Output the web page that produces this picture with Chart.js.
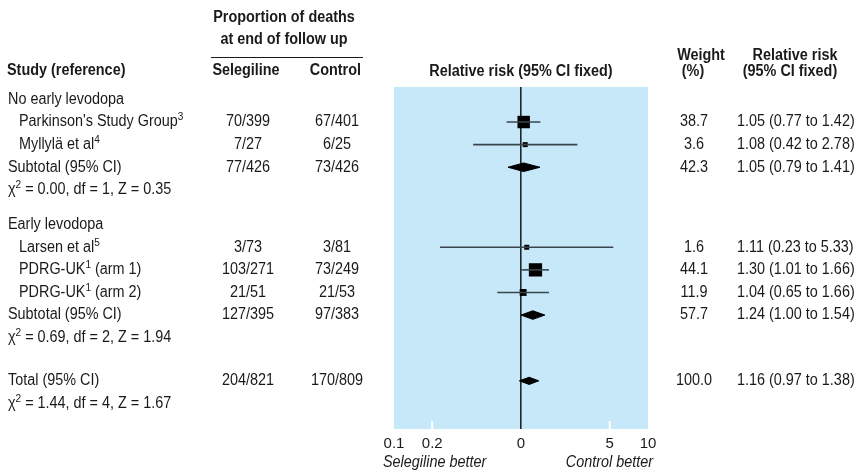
<!DOCTYPE html>
<html>
<head>
<meta charset="utf-8">
<script src="https://cdn.jsdelivr.net/npm/chart.js@4.4.0/dist/chart.umd.min.js"></script>
<style>
  html, body { margin: 0; padding: 0; background: #fff; }
  canvas { display: block; }
</style>
</head>
<body>
<canvas id="forest" width="858" height="474"></canvas>
<script>
// Data ------------------------------------------------------------------------
const groups = ["No early levodopa", "Early levodopa"];
const studies = ["Parkinson's Study Group", "Myllylä et al", "Larsen et al", "PDRG-UK", "PDRG-UK"];
const studyRefs = ["3", "4", "5", "1", "1"];
const studySuffix = ["", "", "", " (arm 1)", " (arm 2)"];
const studyGroup = [0, 0, 1, 1, 1];
const selDeaths = [70, 7, 3, 103, 21];
const selTotal = [399, 27, 73, 271, 51];
const ctlDeaths = [67, 6, 3, 73, 21];
const ctlTotal = [401, 25, 81, 249, 53];
const weights = [38.7, 3.6, 1.6, 44.1, 11.9];
const rr = [1.05, 1.08, 1.11, 1.30, 1.04];
const rrLow = [0.77, 0.42, 0.23, 1.01, 0.65];
const rrHigh = [1.42, 2.78, 5.33, 1.66, 1.66];

const subWeights = [42.3, 57.7];
const subRR = [1.05, 1.24];
const subLow = [0.79, 1.00];
const subHigh = [1.41, 1.54];
const subChi2 = ["0.00", "0.69"];
const subDf = [1, 2];
const subZ = ["0.35", "1.94"];

const totalWeight = 100.0;
const totalRR = 1.16, totalLow = 0.97, totalHigh = 1.38;
const totalChi2 = "1.44", totalDf = 4, totalZ = "1.67";

const tickValues = [0.1, 0.2, 1, 5, 10];
const tickLabels = ["0.1", "0.2", "0", "5", "10"];
//------------------------------------------------------------------------------

// Layout ----------------------------------------------------------------------
const FONT = '"Liberation Sans", Arial, sans-serif';
const TXT = "#1a1a1a";
const CI_COLOR = "#3a464e";
const PANEL = "#c7e8f8";
const GROUP_GAP = 1.54, TOTAL_GAP = 1.91;
const COL_SEL = 248, COL_CTL = 337, COL_W = 694, COL_RR = 737;
const S = 16;            // text size
const NARROW = 0.9;      // horizontal squeeze, regular text
const NARROW_B = 0.9;    // horizontal squeeze, bold text

const rows = [];
let pos = 0;
groups.forEach((g, gi) => {
  if (gi > 0) pos += GROUP_GAP;
  rows.push({ y: pos++, kind: "group", gi });
  studies.forEach((s, i) => {
    if (studyGroup[i] === gi) rows.push({ y: pos++, kind: "study", i });
  });
  rows.push({ y: pos++, kind: "subtotal", gi });
  rows.push({ y: pos, kind: "het", gi });
});
pos += TOTAL_GAP;
rows.push({ y: pos++, kind: "total" });
rows.push({ y: pos, kind: "hetTotal" });

const rowOf = (kind, key, val) => rows.find(r => r.kind === kind && (key == null || r[key] === val)).y;
const sum = (arr, gi) => arr.reduce((a, v, i) => a + (studyGroup[i] === gi ? v : 0), 0);
const total = arr => arr.reduce((a, v) => a + v, 0);
const ci = (m, l, h) => m.toFixed(2) + " (" + l.toFixed(2) + " to " + h.toFixed(2) + ")";

// Datasets --------------------------------------------------------------------
const datasets = [];

// confidence interval lines
studies.forEach((s, i) => {
  const y = rowOf("study", "i", i);
  datasets.push({
    type: "line",
    data: [{ x: rrLow[i], y }, { x: rrHigh[i], y }],
    borderColor: CI_COLOR,
    borderWidth: 1.6,
    pointRadius: 0,
  });
});

// study squares, area ~ weight
datasets.push({
  type: "scatter",
  data: studies.map((s, i) => ({ x: rr[i], y: rowOf("study", "i", i) })),
  pointStyle: "rect",
  pointRadius: weights.map(w => Math.max(5, 2 * Math.sqrt(w)) / Math.SQRT2),
  backgroundColor: "#000",
  borderWidth: 0,
});

// pooled diamonds
function diamond(m, l, h, y, hh) {
  return {
    type: "line",
    data: [{ x: l, y }, { x: m, y: y - hh }, { x: h, y }, { x: m, y: y + hh }, { x: l, y }],
    borderColor: "#000",
    backgroundColor: "#000",
    borderWidth: 1,
    fill: "shape",
    pointRadius: 0,
    tension: 0,
  };
}
groups.forEach((g, gi) => {
  datasets.push(diamond(subRR[gi], subLow[gi], subHigh[gi], rowOf("subtotal", "gi", gi), 0.19));
});
datasets.push(diamond(totalRR, totalLow, totalHigh, rowOf("total"), 0.16));

// Plugins ---------------------------------------------------------------------
function rich(ctx, x, y, parts, align, bold, italic) {
  const sx = bold ? NARROW_B : NARROW;
  const f = (s) => (italic ? "italic " : "") + (bold ? "bold " : "") + s + "px " + FONT;
  let w = 0;
  parts.forEach(p => { ctx.font = f(p.sup ? S * 0.7 : S); w += ctx.measureText(p.t).width * sx; });
  let cx = align === "center" ? x - w / 2 : align === "right" ? x - w : x;
  ctx.textAlign = "left";
  ctx.textBaseline = "middle";
  parts.forEach(p => {
    ctx.font = f(p.sup ? S * 0.7 : S);
    ctx.save();
    ctx.translate(cx, p.sup ? y - S * 0.3 : y);
    ctx.scale(sx, 1);
    ctx.fillText(p.t, 0, 0);
    ctx.restore();
    cx += ctx.measureText(p.t).width * sx;
  });
}

const panelPlugin = {
  id: "panel",
  beforeDraw(chart) {
    const { ctx, chartArea: a } = chart;
    ctx.save();
    ctx.fillStyle = PANEL;
    ctx.fillRect(a.left, a.top, a.right - a.left, a.bottom - a.top);
    ctx.restore();
  },
  beforeDatasetsDraw(chart) {
    const { ctx, chartArea: a, scales } = chart;
    ctx.save();
    ctx.strokeStyle = "#fff";
    ctx.lineWidth = 2;
    [0.2, 5].forEach(v => {
      const x = scales.x.getPixelForValue(v);
      ctx.beginPath();
      ctx.moveTo(x, a.bottom - 8);
      ctx.lineTo(x, a.bottom);
      ctx.stroke();
    });
    ctx.restore();
  },
};

const tablePlugin = {
  id: "table",
  afterDraw(chart) {
    const { ctx, scales } = chart;
    const Y = v => scales.y.getPixelForValue(v);
    ctx.save();
    ctx.fillStyle = TXT;

    // headers
    rich(ctx, 284, 18, [{ t: "Proportion of deaths" }], "center", true);
    rich(ctx, 284, 40, [{ t: "at end of follow up" }], "center", true);
    ctx.strokeStyle = TXT;
    ctx.lineWidth = 1;
    ctx.beginPath();
    ctx.moveTo(211, 57.5);
    ctx.lineTo(363, 57.5);
    ctx.stroke();
    rich(ctx, 7, 71, [{ t: "Study (reference)" }], "left", true);
    rich(ctx, 246, 71, [{ t: "Selegiline" }], "center", true);
    rich(ctx, 361, 71, [{ t: "Control" }], "right", true);
    rich(ctx, scales.x.getPixelForValue(1), 72, [{ t: "Relative risk (95% CI fixed)" }], "center", true);
    rich(ctx, 701, 56, [{ t: "Weight" }], "center", true);
    rich(ctx, 693, 72, [{ t: "(%)" }], "center", true);
    rich(ctx, 795, 56, [{ t: "Relative risk" }], "center", true);
    rich(ctx, 790, 72, [{ t: "(95% CI fixed)" }], "center", true);

    const het = (chi, df, z) => [{ t: "χ" }, { t: "2", sup: true }, { t: " = " + chi + ", df = " + df + ", Z = " + z }];

    rows.forEach(r => {
      const y = Y(r.y);
      if (r.kind === "group") {
        rich(ctx, 8, y, [{ t: groups[r.gi] }], "left");
      } else if (r.kind === "study") {
        const i = r.i;
        rich(ctx, 19, y, [{ t: studies[i] }, { t: studyRefs[i], sup: true }, { t: studySuffix[i] }], "left");
        rich(ctx, COL_SEL, y, [{ t: selDeaths[i] + "/" + selTotal[i] }], "center");
        rich(ctx, COL_CTL, y, [{ t: ctlDeaths[i] + "/" + ctlTotal[i] }], "center");
        rich(ctx, COL_W, y, [{ t: weights[i].toFixed(1) }], "center");
        rich(ctx, COL_RR, y, [{ t: ci(rr[i], rrLow[i], rrHigh[i]) }], "left");
      } else if (r.kind === "subtotal") {
        const gi = r.gi;
        rich(ctx, 8, y, [{ t: "Subtotal (95% CI)" }], "left");
        rich(ctx, COL_SEL, y, [{ t: sum(selDeaths, gi) + "/" + sum(selTotal, gi) }], "center");
        rich(ctx, COL_CTL, y, [{ t: sum(ctlDeaths, gi) + "/" + sum(ctlTotal, gi) }], "center");
        rich(ctx, COL_W, y, [{ t: subWeights[gi].toFixed(1) }], "center");
        rich(ctx, COL_RR, y, [{ t: ci(subRR[gi], subLow[gi], subHigh[gi]) }], "left");
      } else if (r.kind === "het") {
        rich(ctx, 8, y, het(subChi2[r.gi], subDf[r.gi], subZ[r.gi]), "left");
      } else if (r.kind === "total") {
        rich(ctx, 8, y, [{ t: "Total (95% CI)" }], "left");
        rich(ctx, COL_SEL, y, [{ t: total(selDeaths) + "/" + total(selTotal) }], "center");
        rich(ctx, COL_CTL, y, [{ t: total(ctlDeaths) + "/" + total(ctlTotal) }], "center");
        rich(ctx, COL_W, y, [{ t: totalWeight.toFixed(1) }], "center");
        rich(ctx, COL_RR, y, [{ t: ci(totalRR, totalLow, totalHigh) }], "left");
      } else if (r.kind === "hetTotal") {
        rich(ctx, 8, y, het(totalChi2, totalDf, totalZ), "left");
      }
    });

    // direction labels under the axis
    rich(ctx, 383, 463, [{ t: "Selegiline better" }], "left", false, true);
    rich(ctx, 653, 463, [{ t: "Control better" }], "right", false, true);
    ctx.restore();
  },
};

// Chart -----------------------------------------------------------------------
const forest = new Chart(document.getElementById("forest"), {
  type: "line",
  data: { datasets },
  options: {
    responsive: false,
    animation: false,
    devicePixelRatio: 1,
    layout: { padding: { left: 394, right: 210, top: 87, bottom: 0 } },
    scales: {
      x: {
        type: "logarithmic",
        min: 0.1,
        max: 10,
        afterBuildTicks: (scale) => { scale.ticks = tickValues.map(v => ({ value: v })); },
        afterFit: (scale) => { scale.height = 45; },
        ticks: {
          autoSkip: false,
          maxRotation: 0,
          padding: 6,
          color: TXT,
          font: { family: FONT, size: 15 },
          callback: (v, i) => tickLabels[i],
        },
        grid: {
          drawTicks: false,
          lineWidth: 1.6,
          color: (c) => (c.tick && c.tick.value === 1 ? "#1f272c" : "rgba(0,0,0,0)"),
        },
        border: { display: false },
      },
      y: {
        type: "linear",
        reverse: true,
        min: -0.55,
        max: 14.58,
        display: false,
      },
    },
    plugins: {
      legend: { display: false },
      tooltip: { enabled: false },
    },
  },
  plugins: [panelPlugin, tablePlugin],
});
</script>
</body>
</html>
